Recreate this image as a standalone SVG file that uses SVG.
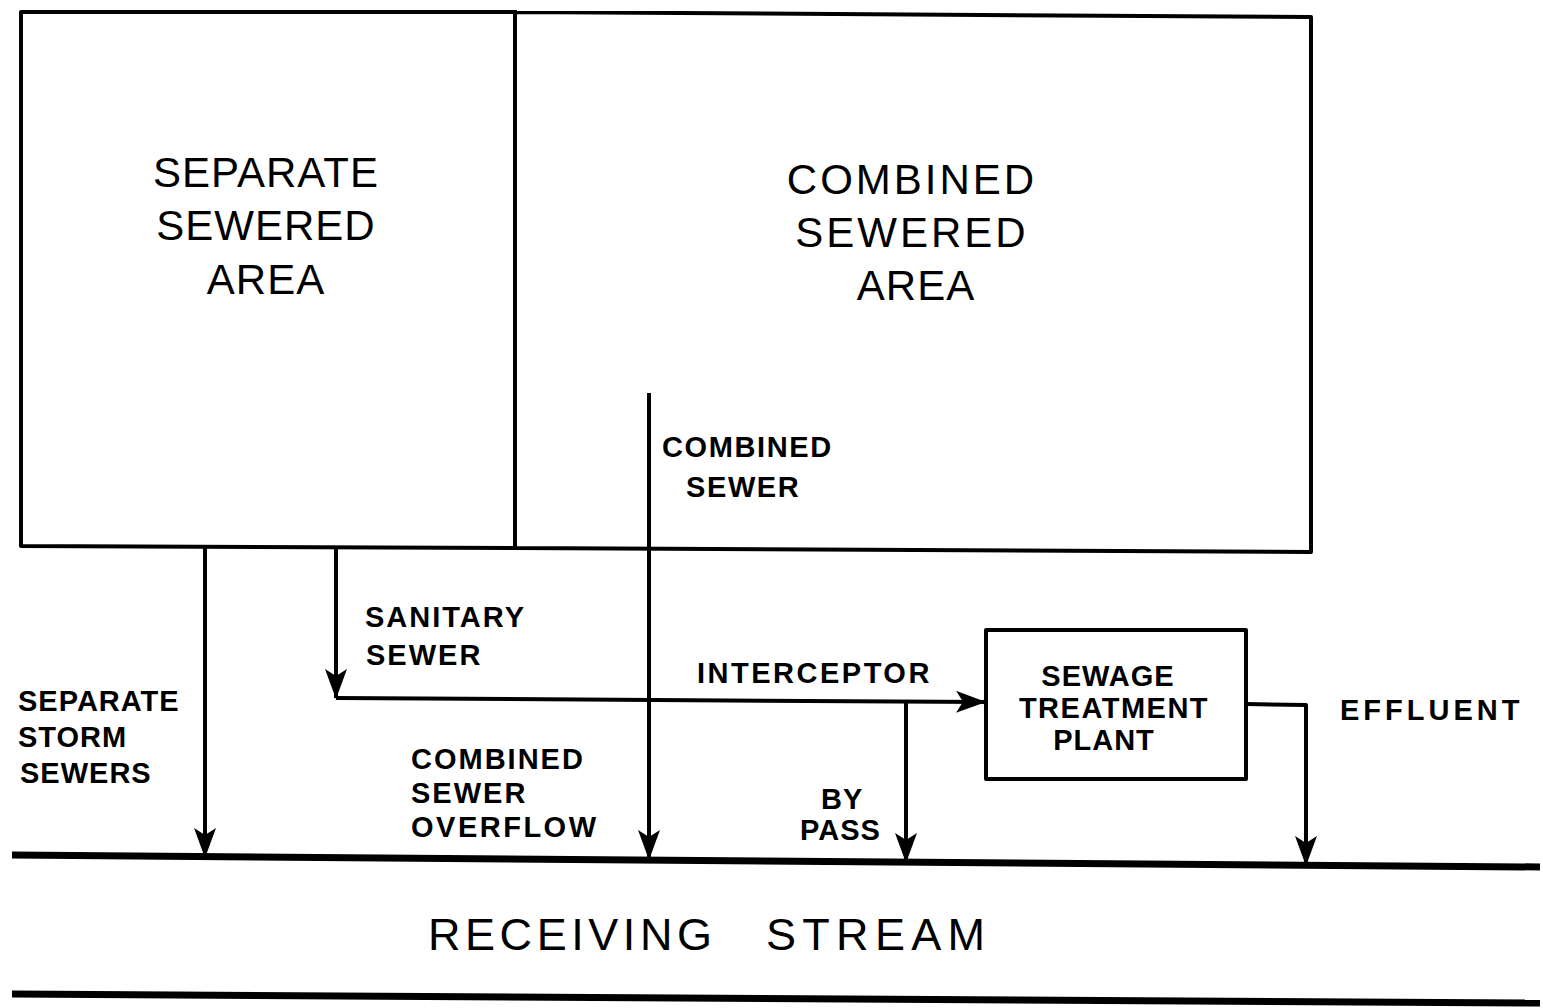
<svg xmlns="http://www.w3.org/2000/svg" width="1543" height="1008" viewBox="0 0 1543 1008">
<style>
.ln{fill:none;stroke:#000;stroke-width:4;stroke-linejoin:round}
.big{font-family:"Liberation Sans",Arial,sans-serif;font-size:42px;fill:#000}
.lbl{font-family:"Liberation Sans",Arial,sans-serif;font-size:29px;font-weight:bold;fill:#000}
</style>
<defs>
<marker id="ah" viewBox="0 0 30 22" refX="29" refY="11" markerWidth="30" markerHeight="22" markerUnits="userSpaceOnUse" orient="auto">
<path d="M0,0 L30,11 L0,22 L7,11 Z" fill="#000"/>
</marker>
</defs>
<rect width="1543" height="1008" fill="#fff"/>
<g id="separate-area">
<path class="ln" d="M515,12 L21,12 L21,546 L515,548"/>
<text class="big" x="266" y="187" text-anchor="middle" letter-spacing="1">SEPARATE</text>
<text class="big" x="266" y="240" text-anchor="middle" letter-spacing="1">SEWERED</text>
<text class="big" x="266" y="294" text-anchor="middle" letter-spacing="1">AREA</text>
</g>
<g id="combined-area">
<path class="ln" d="M515,10 L515,548 M515,12 L1311,17 L1311,552 L515,548"/>
<text class="big" x="912" y="194" text-anchor="middle" letter-spacing="3">COMBINED</text>
<text class="big" x="912" y="247" text-anchor="middle" letter-spacing="3">SEWERED</text>
<text class="big" x="916" y="300" text-anchor="middle" letter-spacing="1">AREA</text>
</g>
<g id="treatment-plant">
<rect class="ln" x="986" y="630" width="260" height="149"/>
<text class="lbl" x="1108" y="686" text-anchor="middle" letter-spacing="1">SEWAGE</text>
<text class="lbl" x="1114" y="718" text-anchor="middle" letter-spacing="1.5">TREATMENT</text>
<text class="lbl" x="1104" y="750" text-anchor="middle" letter-spacing="1">PLANT</text>
</g>
<g id="stream">
<path d="M12,855 L1540,867" stroke="#000" stroke-width="7" fill="none"/>
<path d="M12,994 L1540,1003" stroke="#000" stroke-width="7" fill="none"/>
<text class="big" x="428" y="950" style="font-size:45px" textLength="284" lengthAdjust="spacing">RECEIVING</text>
<text class="big" x="766" y="950" style="font-size:45px" textLength="219" lengthAdjust="spacing">STREAM</text>
</g>
<g id="connectors">
<path class="ln" d="M205,548 L205,857" marker-end="url(#ah)"/>
<path class="ln" d="M336,549 L336,698" marker-end="url(#ah)"/>
<path class="ln" d="M336,698 L985,702" marker-end="url(#ah)"/>
<path class="ln" d="M649,393 L649,859" marker-end="url(#ah)"/>
<path class="ln" d="M906,702 L906,862" marker-end="url(#ah)"/>
<path class="ln" d="M1246,704 L1306,705 L1306,865" marker-end="url(#ah)"/>
</g>
<g id="labels">
<text class="lbl" x="662" y="457" letter-spacing="1.6">COMBINED</text>
<text class="lbl" x="686" y="497" letter-spacing="1.6">SEWER</text>
<text class="lbl" x="365" y="627" letter-spacing="2">SANITARY</text>
<text class="lbl" x="366" y="665" letter-spacing="2">SEWER</text>
<text class="lbl" x="697" y="683" letter-spacing="2.5">INTERCEPTOR</text>
<text class="lbl" x="1340" y="720" letter-spacing="4">EFFLUENT</text>
<text class="lbl" x="18" y="711" letter-spacing="1">SEPARATE</text>
<text class="lbl" x="18" y="747" letter-spacing="1">STORM</text>
<text class="lbl" x="20" y="783" letter-spacing="1">SEWERS</text>
<text class="lbl" x="411" y="769" letter-spacing="2">COMBINED</text>
<text class="lbl" x="411" y="803" letter-spacing="2">SEWER</text>
<text class="lbl" x="411" y="837" letter-spacing="2.5">OVERFLOW</text>
<text class="lbl" x="821" y="809" letter-spacing="1">BY</text>
<text class="lbl" x="800" y="840" letter-spacing="1">PASS</text>
</g>
</svg>
